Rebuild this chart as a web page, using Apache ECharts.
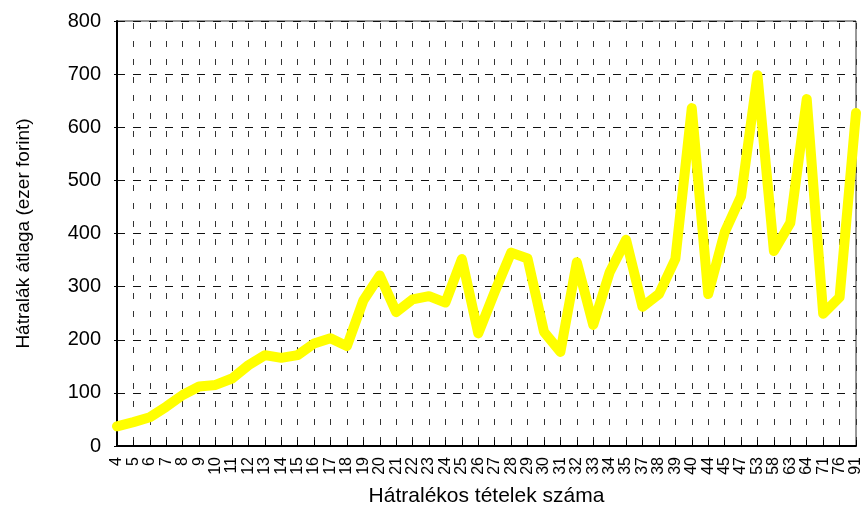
<!DOCTYPE html>
<html>
<head>
<meta charset="utf-8">
<script src="https://cdn.jsdelivr.net/npm/echarts@6/dist/echarts.min.js"></script>
<style>
html,body{margin:0;padding:0;background:#fff;}
#chart{width:864px;height:512px;}
</style>
</head>
<body>
<div id="chart"></div>
<script>
const categories = ['4','5','6','7','8','9','10','11','12','13','14','15','16','17','18','19','20','21','22','23','24','25','26','27','28','29','30','31','32','33','34','35','37','38','39','40','44','45','47','53','58','63','64','71','76','91'];
const values = [37,45,54,74,96,112,115,127,152,171,166,171,193,203,188,274,321,252,276,282,270,352,212,290,364,353,215,177,346,228,327,388,262,286,352,636,286,402,470,698,367,420,653,249,280,627];
const yTicks = [0,100,200,300,400,500,600,700,800];
const xTitle = 'Hátralékos tételek száma';
const yTitle = 'Hátralák átlaga (ezer forint)';

const FONT = '"Liberation Sans", Arial, sans-serif';
const chart = echarts.init(document.getElementById('chart'), null, {renderer:'canvas'});
chart.setOption({
  animation:false,
  backgroundColor:'#ffffff',
  grid:{left:117, right:8, top:21, bottom:64, show:true, borderColor:'#333', borderWidth:1, backgroundColor:'transparent'},
  xAxis:{
    type:'category',
    data:categories,
    boundaryGap:false,
    name:xTitle,
    nameLocation:'middle',
    nameGap:40,
    nameTextStyle:{fontFamily:FONT, fontSize:21, color:'#000'},
    axisLine:{show:true, lineStyle:{color:'#000', width:2}},
    axisTick:{show:true, inside:true, length:6, alignWithLabel:true, lineStyle:{color:'#000'}},
    axisLabel:{interval:0, rotate:90, margin:11, fontFamily:FONT, fontSize:16, color:'#000'},
    splitLine:{show:true, interval:0, lineStyle:{color:'#333', width:1, type:[6,12], dashOffset:-2}}
  },
  yAxis:{
    type:'value',
    min:yTicks[0],
    max:yTicks[yTicks.length-1],
    interval:100,
    name:yTitle,
    nameLocation:'middle',
    nameGap:84,
    nameTextStyle:{fontFamily:FONT, fontSize:19, color:'#000'},
    axisLine:{show:true, lineStyle:{color:'#000', width:2}},
    axisTick:{show:true, length:3, lineStyle:{color:'#000'}},
    axisLabel:{margin:16, fontFamily:FONT, fontSize:20, color:'#000'},
    splitLine:{show:true, lineStyle:{color:'#111', width:1, type:[8,8]}}
  },
  series:[{
    type:'line',
    data:values,
    clip:false,
    symbol:'none',
    lineStyle:{color:'#FFFF00', width:10, cap:'round', join:'round'},
    z:5
  }]
});
</script>
</body>
</html>
